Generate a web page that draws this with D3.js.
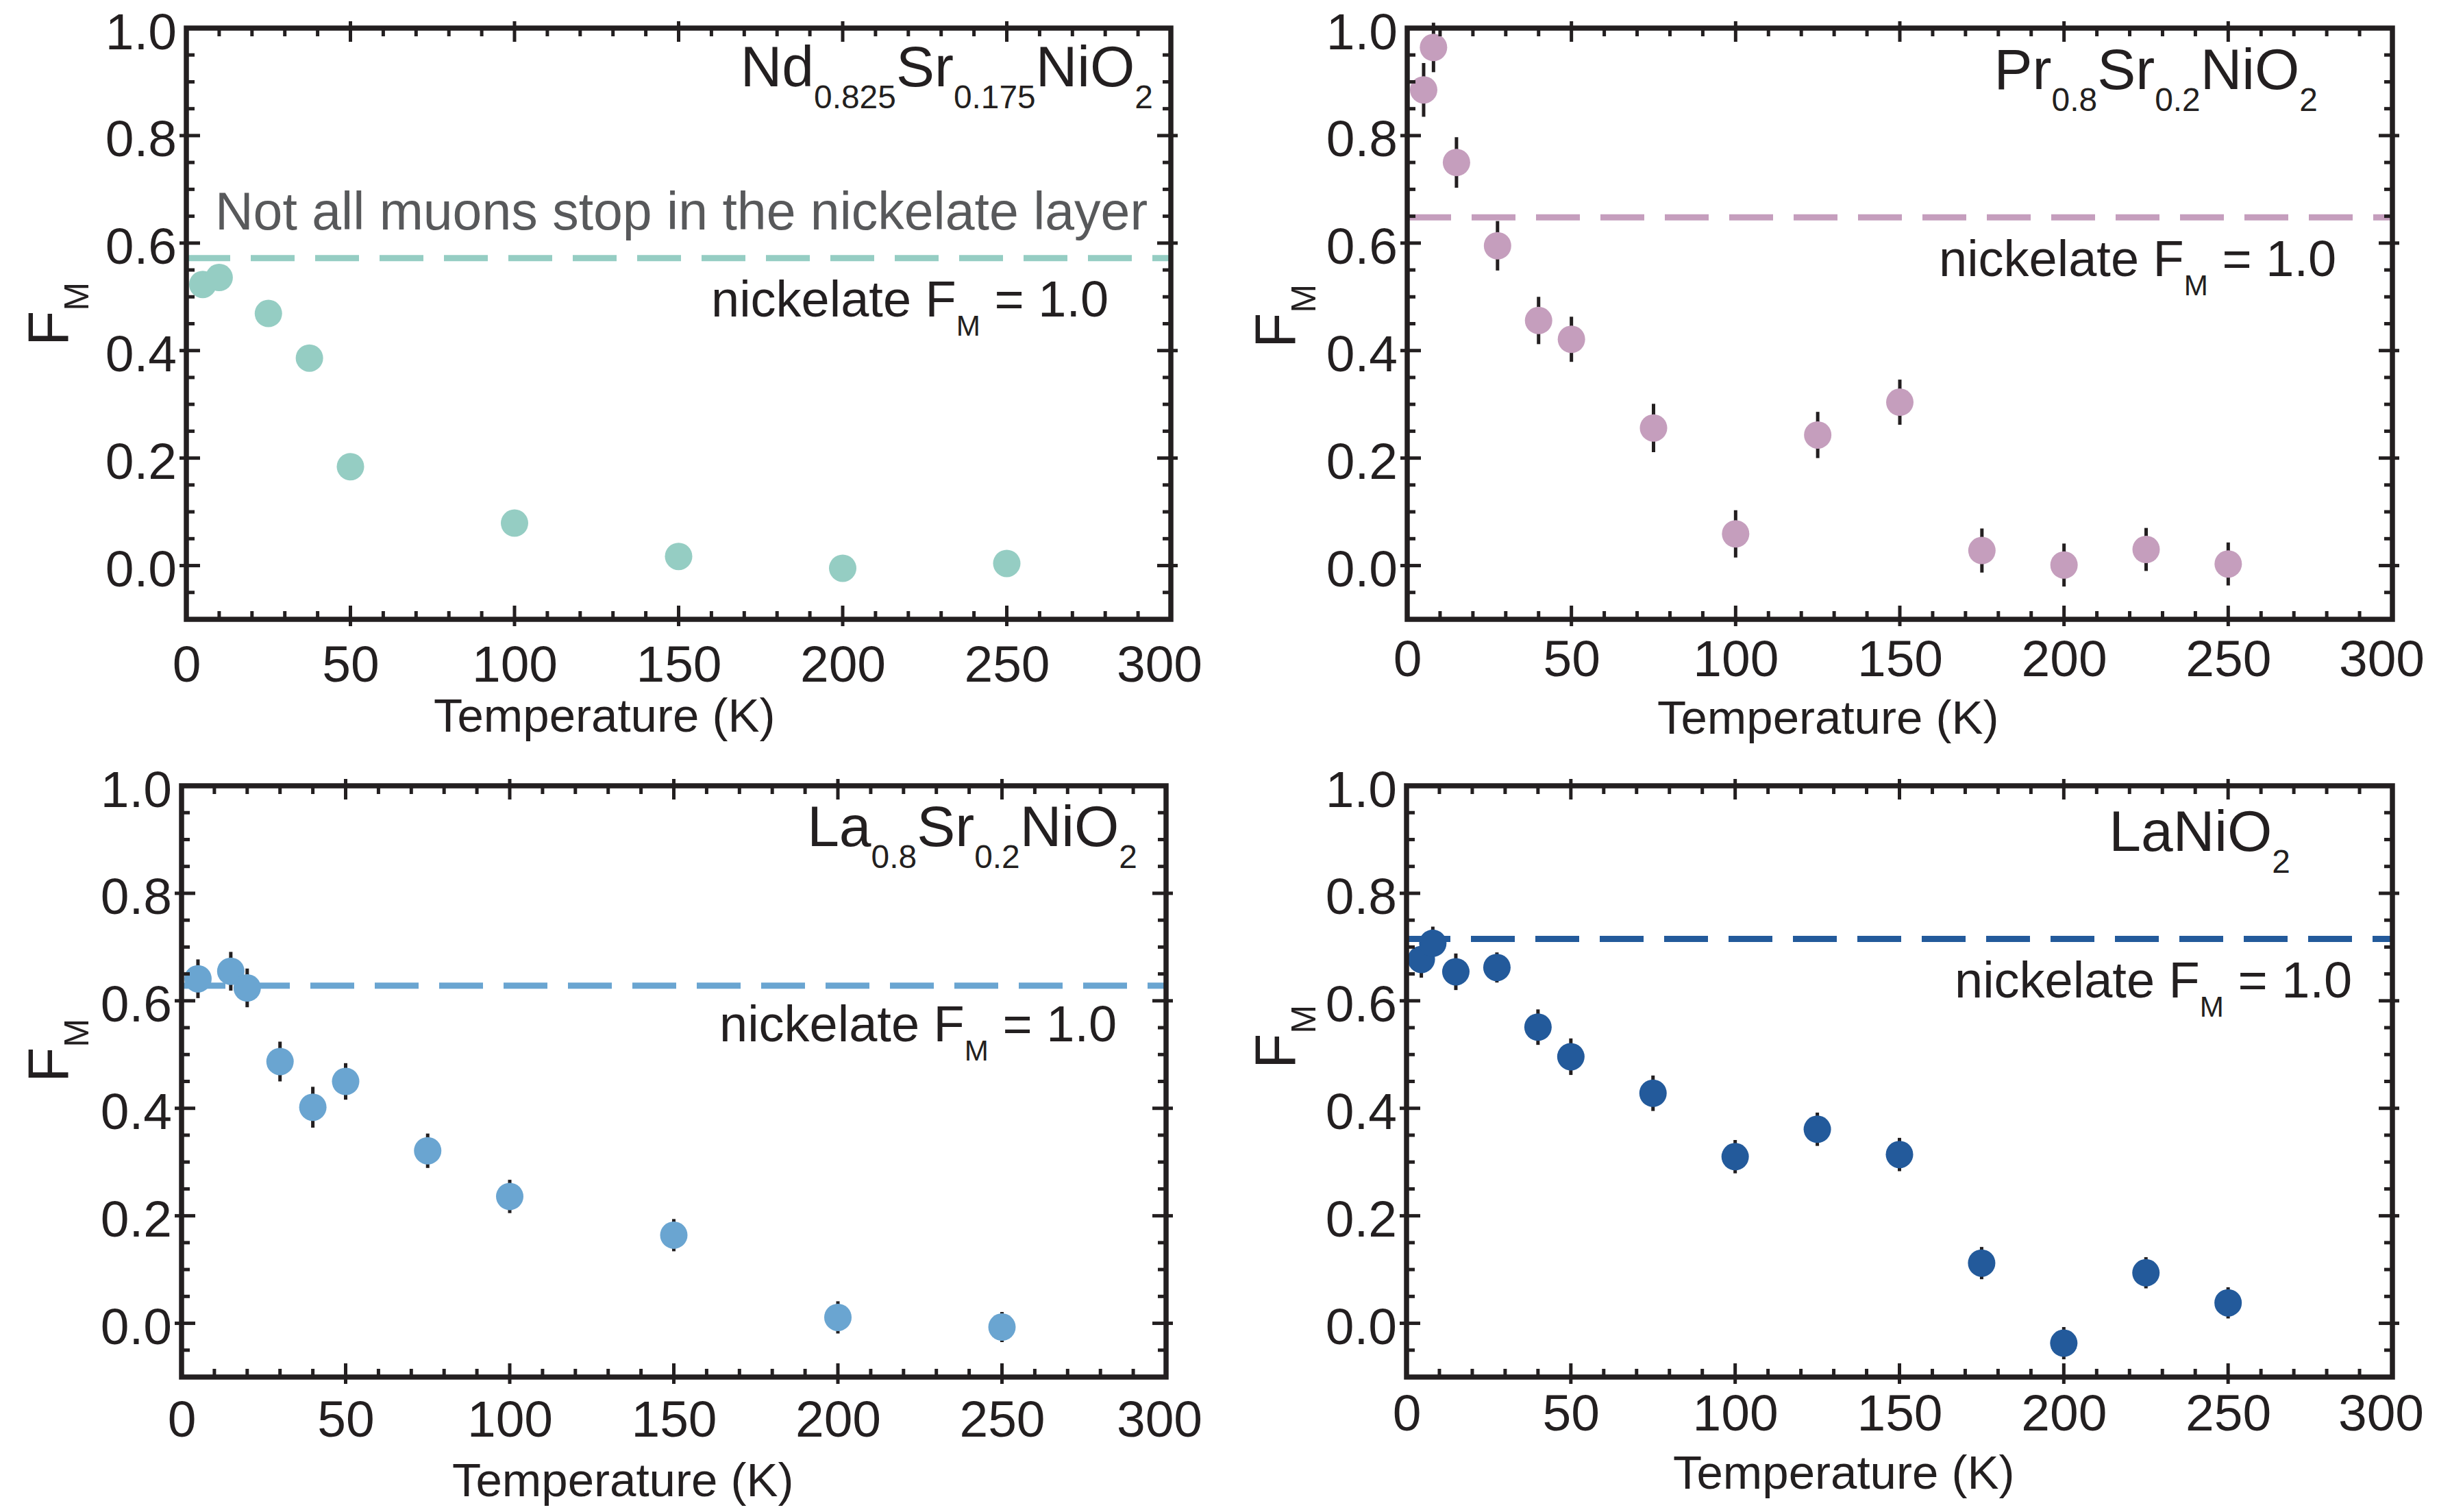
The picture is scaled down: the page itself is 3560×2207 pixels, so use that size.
<!DOCTYPE html>
<html>
<head>
<meta charset="utf-8">
<script src="https://cdn.jsdelivr.net/npm/d3@7"></script>
<style>
  html, body { margin: 0; padding: 0; background: #ffffff; }
  svg { display: block; }
  text { font-family: "Liberation Sans", Arial, Helvetica, sans-serif; fill: #231f20; }
</style>
</head>
<body>
<svg id="fig" width="3560" height="2207"></svg>
<script>
// Magnetic volume fraction F_M versus temperature for four infinite-layer nickelates.

// Nd0.825Sr0.175NiO2
const ndTemps = [5, 10, 25, 37.5, 50, 100, 150, 200, 250];
const ndFM    = [0.523, 0.536, 0.469, 0.386, 0.184, 0.079, 0.017, -0.005, 0.004];
const ndLevel = 0.572;

// Pr0.8Sr0.2NiO2
const prTemps = [5, 8, 15, 27.5, 40, 50, 75, 100, 125, 150, 175, 200, 225, 250];
const prFM    = [0.885, 0.964, 0.750, 0.595, 0.456, 0.421, 0.256, 0.059, 0.243, 0.304, 0.028, 0.001, 0.030, 0.003];
const prErr   = [0.050, 0.046, 0.047, 0.046, 0.044, 0.042, 0.045, 0.044, 0.043, 0.042, 0.041, 0.040, 0.040, 0.040];
const prLevel = 0.648;

// La0.8Sr0.2NiO2
const lsTemps = [5, 15, 20, 30, 40, 50, 75, 100, 150, 200, 250];
const lsFM    = [0.641, 0.655, 0.624, 0.487, 0.402, 0.450, 0.321, 0.236, 0.164, 0.011, -0.007];
const lsErr   = [0.036, 0.036, 0.036, 0.037, 0.038, 0.034, 0.032, 0.031, 0.030, 0.030, 0.028];
const lsLevel = 0.628;

// LaNiO2
const lnTemps = [4.5, 8, 15, 27.5, 40, 50, 75, 100, 125, 150, 175, 200, 225, 250];
const lnFM    = [0.677, 0.707, 0.654, 0.662, 0.551, 0.496, 0.428, 0.310, 0.361, 0.314, 0.112, -0.037, 0.094, 0.038];
const lnErr   = [0.034, 0.031, 0.034, 0.028, 0.033, 0.034, 0.033, 0.031, 0.031, 0.031, 0.030, 0.030, 0.029, 0.029];
const lnLevel = 0.715;

// Axes
const xDomain = [0, 300];
const yDomain = [-0.1, 1.0];
const xTickValues = [0, 50, 100, 150, 200, 250, 300];
const yTickValues = [0.0, 0.2, 0.4, 0.6, 0.8, 1.0];
const xMinorStep = 10;
const yMinorStep = 0.05;

// Text content (pieces flagged 1 are subscripts)
const ndFormula = [["Nd"], ["0.825", 1], ["Sr"], ["0.175", 1], ["NiO"], ["2", 1]];
const prFormula = [["Pr"], ["0.8", 1], ["Sr"], ["0.2", 1], ["NiO"], ["2", 1]];
const lsFormula = [["La"], ["0.8", 1], ["Sr"], ["0.2", 1], ["NiO"], ["2", 1]];
const lnFormula = [["LaNiO"], ["2", 1]];
const levelNote = [["nickelate F"], ["M", 1], [" = 1.0"]];
const muonNote = "Not all muons stop in the nickelate layer";
const yTitle = [["F"], ["M", 1]];
const xTitle = "Temperature (K)";

const INK = "#231f20";

// Panel layout and styling
const panels = [
  { temps: ndTemps, fm: ndFM, err: null, level: ndLevel, color: "#95cdc3", formula: ndFormula,
    box: { left: 272, right: 1709, top: 41, bottom: 904 },
    formulaPos: [1683, 126], notePos: [1038, 462], muonPos: [314, 335],
    xLabelBase: 995, yTitlePos: [99, 505], xTitlePos: [633, 1068], lastNudge: -17 },
  { temps: prTemps, fm: prFM, err: prErr, level: prLevel, color: "#c59ebd", formula: prFormula,
    box: { left: 2054, right: 3492, top: 41, bottom: 904 },
    formulaPos: [3383, 130], notePos: [2830, 403], muonPos: null,
    xLabelBase: 987, yTitlePos: [1890, 508], xTitlePos: [2419, 1071], lastNudge: -16 },
  { temps: lsTemps, fm: lsFM, err: lsErr, level: lsLevel, color: "#6aa5d1", formula: lsFormula,
    box: { left: 265, right: 1702, top: 1147, bottom: 2010 },
    formulaPos: [1660, 1235], notePos: [1050, 1520], muonPos: null,
    xLabelBase: 2097, yTitlePos: [99, 1580], xTitlePos: [660, 2184], lastNudge: -10 },
  { temps: lnTemps, fm: lnFM, err: lnErr, level: lnLevel, color: "#235a9b", formula: lnFormula,
    box: { left: 2053, right: 3492, top: 1147, bottom: 2010 },
    formulaPos: [3343, 1242], notePos: [2853, 1456], muonPos: null,
    xLabelBase: 2088, yTitlePos: [1890, 1560], xTitlePos: [2442, 2173], lastNudge: -17 }
];

const svg = d3.select("#fig");

// Writes a text element made of normal and subscript pieces
function richText(parent, pieces, opts) {
  const fs = opts.size;
  const subScale = opts.subScale || 0.57;
  const drop = fs * (opts.drop || 0.38);
  const t = parent.append("text")
    .attr("x", opts.x).attr("y", opts.y)
    .attr("font-size", fs)
    .attr("text-anchor", opts.anchor || "start");
  if (opts.transform) t.attr("transform", opts.transform);
  if (opts.fill) t.style("fill", opts.fill);
  let down = false;
  pieces.forEach(([str, sub]) => {
    const s = t.append("tspan").text(str);
    if (sub && !down) { s.attr("dy", drop).attr("font-size", fs * subScale); down = true; }
    else if (sub) { s.attr("font-size", fs * subScale); }
    else if (down) { s.attr("dy", -drop); down = false; }
  });
  return t;
}

const FRAME_W = 7.5;
const MINOR_IN = 12, MAJOR_IN = 20, MAJOR_OUT = 10;

panels.forEach(p => {
  const b = p.box;
  const x = d3.scaleLinear().domain(xDomain).range([b.left, b.right]);
  const y = d3.scaleLinear().domain(yDomain).range([b.bottom, b.top]);
  const g = svg.append("g");

  // reference level of the nickelate layer
  g.append("line")
    .attr("x1", x(xDomain[0])).attr("x2", x(xDomain[1]))
    .attr("y1", y(p.level)).attr("y2", y(p.level))
    .attr("stroke", p.color).attr("stroke-width", 9)
    .attr("stroke-dasharray", "64 30");

  const pts = p.temps.map((t, i) => ({ t, v: p.fm[i], e: p.err ? p.err[i] : 0 }));

  // error bars under the markers
  if (p.err) {
    g.append("g").selectAll("line").data(pts).join("line")
      .attr("x1", d => x(d.t)).attr("x2", d => x(d.t))
      .attr("y1", d => y(d.v - d.e)).attr("y2", d => y(d.v + d.e))
      .attr("stroke", INK).attr("stroke-width", 5);
  }

  g.append("g").selectAll("circle").data(pts).join("circle")
    .attr("cx", d => x(d.t)).attr("cy", d => y(d.v))
    .attr("r", 20).attr("fill", p.color);

  // frame
  g.append("rect")
    .attr("x", b.left).attr("y", b.top)
    .attr("width", b.right - b.left).attr("height", b.bottom - b.top)
    .attr("fill", "none").attr("stroke", INK).attr("stroke-width", FRAME_W);

  // ticks on all four sides
  const ticks = g.append("g").attr("stroke", INK).attr("stroke-width", 5);
  const xMinor = d3.range(xDomain[0] + xMinorStep, xDomain[1], xMinorStep);
  xMinor.forEach(v => {
    const major = v % 50 === 0;
    const inn = major ? MAJOR_IN : MINOR_IN, out = major ? MAJOR_OUT : 0;
    ticks.append("line").attr("x1", x(v)).attr("x2", x(v))
      .attr("y1", b.bottom + out).attr("y2", b.bottom - inn);
    ticks.append("line").attr("x1", x(v)).attr("x2", x(v))
      .attr("y1", b.top - out).attr("y2", b.top + inn);
  });
  const yMinor = d3.range(yDomain[0] + yMinorStep, yDomain[1] - 1e-9, yMinorStep)
    .map(v => Math.round(v * 100) / 100);
  yMinor.forEach(v => {
    const major = Math.abs(Math.round(v * 10) % 2) === 0 && Math.abs(v * 10 - Math.round(v * 10)) < 1e-6 && v >= 0;
    const inn = major ? MAJOR_IN : MINOR_IN, out = major ? MAJOR_OUT : 0;
    ticks.append("line").attr("y1", y(v)).attr("y2", y(v))
      .attr("x1", b.left - out).attr("x2", b.left + inn);
    ticks.append("line").attr("y1", y(v)).attr("y2", y(v))
      .attr("x1", b.right + out).attr("x2", b.right - inn);
  });

  // tick labels from d3 axes
  const xAxis = d3.axisBottom(x).tickValues(xTickValues).tickFormat(d3.format("d"))
    .tickSize(0).tickPadding(0);
  const xa = g.append("g").attr("transform", `translate(0,${p.xLabelBase})`).call(xAxis);
  xa.select(".domain").remove();
  xa.selectAll("text").attr("font-size", 75).attr("dy", 0).attr("y", 0)
    .attr("font-family", null).style("fill", INK);
  xa.selectAll(".tick").filter(d => d === xDomain[1]).select("text").attr("x", p.lastNudge);

  const yAxis = d3.axisLeft(y).tickValues(yTickValues).tickFormat(d3.format(".1f"))
    .tickSize(0).tickPadding(0);
  const ya = g.append("g").attr("transform", `translate(${b.left - 14},0)`).call(yAxis);
  ya.select(".domain").remove();
  ya.selectAll("text").attr("font-size", 75).attr("dy", 0).attr("y", 30).attr("x", 0)
    .attr("font-family", null).style("fill", INK);

  // compound name
  richText(g, p.formula, { x: p.formulaPos[0], y: p.formulaPos[1], size: 84, anchor: "end" });

  // nickelate note
  richText(g, levelNote, { x: p.notePos[0], y: p.notePos[1], size: 74 });

  if (p.muonPos) {
    g.append("text").attr("x", p.muonPos[0]).attr("y", p.muonPos[1])
      .attr("font-size", 77).style("fill", "#58595b").text(muonNote);
  }

  // axis titles
  richText(g, yTitle, { x: 0, y: 0, size: 84, subScale: 0.6, drop: 0.36,
    transform: `translate(${p.yTitlePos[0]},${p.yTitlePos[1]}) rotate(-90)` });
  g.append("text").attr("x", p.xTitlePos[0]).attr("y", p.xTitlePos[1])
    .attr("font-size", 69).text(xTitle);
});
</script>
</body>
</html>
